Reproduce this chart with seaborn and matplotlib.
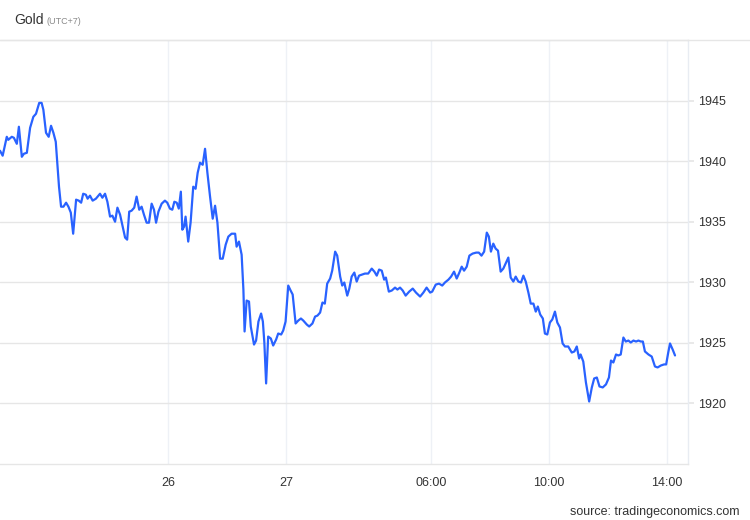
import numpy as np
import pandas as pd
import seaborn as sns
import matplotlib.pyplot as plt

# hours from the left edge of the chart, price in USD
hours = [
    0.00, 0.09, 0.23, 0.28, 0.40, 0.47, 0.57, 0.64, 0.74, 0.81, 0.91, 1.02, 1.13, 1.22, 1.33, 1.41,
    1.47, 1.56, 1.65, 1.73, 1.81, 1.89, 1.94, 2.00, 2.07, 2.15, 2.24, 2.32, 2.40, 2.48, 2.58, 2.67,
    2.75, 2.82, 2.91, 2.97, 3.05, 3.14, 3.25, 3.39, 3.47, 3.56, 3.64, 3.73, 3.81, 3.90, 3.98, 4.07,
    4.18, 4.24, 4.31, 4.38, 4.46, 4.55, 4.63, 4.72, 4.80, 4.88, 4.97, 5.05, 5.14, 5.22, 5.29, 5.37,
    5.48, 5.59, 5.67, 5.76, 5.84, 5.91, 5.99, 6.06, 6.13, 6.18, 6.24, 6.29, 6.38, 6.46, 6.55, 6.63,
    6.70, 6.78, 6.87, 6.95, 7.03, 7.12, 7.21, 7.29, 7.37, 7.46, 7.55, 7.65, 7.74, 7.85, 7.97, 8.02,
    8.10, 8.19, 8.25, 8.29, 8.36, 8.44, 8.50, 8.61, 8.68, 8.76, 8.85, 8.91, 8.96, 9.02, 9.09, 9.18,
    9.26, 9.36, 9.43, 9.53, 9.60, 9.68, 9.77, 9.85, 9.92, 10.02, 10.11, 10.20, 10.28, 10.40, 10.48,
    10.59, 10.68, 10.76, 10.85, 10.93, 11.01, 11.09, 11.19, 11.26, 11.36, 11.43, 11.53, 11.60, 11.67,
    11.77, 11.84, 11.92, 12.01, 12.09, 12.17, 12.26, 12.37, 12.48, 12.60, 12.69, 12.77, 12.85, 12.94,
    13.02, 13.08, 13.18, 13.28, 13.39, 13.47, 13.56, 13.65, 13.75, 13.87, 13.99, 14.10, 14.24, 14.35,
    14.46, 14.58, 14.65, 14.77, 14.88, 14.99, 15.08, 15.20, 15.29, 15.39, 15.48, 15.57, 15.65, 15.73,
    15.82, 15.91, 16.02, 16.14, 16.23, 16.32, 16.41, 16.50, 16.57, 16.64, 16.72, 16.80, 16.88, 16.97,
    17.06, 17.15, 17.23, 17.31, 17.40, 17.48, 17.57, 17.66, 17.74, 17.82, 17.91, 17.99, 18.08, 18.16,
    18.23, 18.31, 18.40, 18.47, 18.55, 18.64, 18.72, 18.81, 18.89, 18.98, 19.07, 19.15, 19.26, 19.38,
    19.47, 19.55, 19.63, 19.68, 19.77, 19.86, 19.97, 20.06, 20.14, 20.23, 20.32, 20.43, 20.54, 20.64,
    20.71, 20.79, 20.88, 20.96, 21.04, 21.13, 21.21, 21.30, 21.38, 21.47, 21.56, 21.64, 21.72, 21.79,
    21.86, 21.98, 22.09, 22.20, 22.29, 22.40, 22.51, 22.58, 22.65, 22.71, 22.80, 22.88,
]
price = [
    1940.86, 1940.45, 1942.01, 1941.76, 1942.01, 1941.93, 1941.43, 1942.84, 1940.36, 1940.61, 1940.69,
    1942.75, 1943.66, 1943.91, 1944.81, 1944.81, 1944.24, 1942.34, 1942.01, 1942.92, 1942.34, 1941.60,
    1939.87, 1937.89, 1936.24, 1936.24, 1936.57, 1936.24, 1935.75, 1934.01, 1936.82, 1936.74, 1936.57,
    1937.31, 1937.23, 1936.90, 1937.15, 1936.74, 1936.90, 1937.31, 1936.98, 1937.31, 1936.65, 1935.42,
    1935.50, 1935.00, 1936.16, 1935.58, 1934.34, 1933.69, 1933.52, 1935.83, 1935.91, 1936.16, 1937.07,
    1935.99, 1936.24, 1935.58, 1934.92, 1934.92, 1936.49, 1935.99, 1934.92, 1935.83, 1936.49, 1936.74,
    1936.57, 1936.08, 1935.99, 1936.65, 1936.57, 1936.08, 1937.48, 1934.34, 1934.59, 1935.42, 1933.36,
    1934.92, 1937.89, 1937.72, 1939.04, 1939.87, 1939.70, 1941.02, 1939.04, 1937.07, 1935.25, 1936.32,
    1934.92, 1931.95, 1931.95, 1933.11, 1933.77, 1934.01, 1934.01, 1932.94, 1933.36, 1932.28, 1929.40,
    1925.94, 1928.49, 1928.41, 1926.35, 1924.86, 1925.19, 1926.76, 1927.42, 1926.76, 1925.03, 1921.65,
    1925.52, 1925.36, 1924.78, 1925.28, 1925.77, 1925.69, 1926.02, 1926.76, 1929.73, 1929.32, 1928.99,
    1926.60, 1926.84, 1927.01, 1926.84, 1926.51, 1926.35, 1926.60, 1927.17, 1927.25, 1927.50, 1928.33,
    1928.24, 1929.89, 1930.31, 1930.96, 1932.53, 1932.20, 1930.47, 1929.73, 1929.98, 1928.90, 1929.48,
    1930.47, 1930.80, 1930.06, 1930.55, 1930.63, 1930.72, 1930.72, 1931.13, 1930.88, 1930.55, 1931.05,
    1930.96, 1930.22, 1930.39, 1929.23, 1929.32, 1929.56, 1929.40, 1929.56, 1929.32, 1928.90, 1929.23,
    1929.48, 1929.15, 1928.82, 1929.15, 1929.56, 1929.15, 1929.23, 1929.81, 1929.89, 1929.73, 1929.98,
    1930.22, 1930.47, 1930.88, 1930.31, 1930.80, 1931.29, 1930.96, 1931.29, 1932.20, 1932.37, 1932.45,
    1932.45, 1932.20, 1932.53, 1934.10, 1933.77, 1932.53, 1933.19, 1932.78, 1932.61, 1930.88, 1931.13,
    1931.62, 1932.04, 1930.39, 1930.06, 1930.47, 1930.06, 1929.98, 1930.55, 1930.06, 1929.15, 1928.24,
    1928.24, 1927.58, 1928.00, 1927.34, 1927.01, 1925.77, 1925.69, 1926.68, 1926.93, 1927.58, 1926.68,
    1926.27, 1924.95, 1924.70, 1924.70, 1924.20, 1924.29, 1924.70, 1923.71, 1924.04, 1923.46, 1921.73,
    1920.16, 1921.32, 1922.06, 1922.14, 1921.40, 1921.32, 1921.57, 1922.14, 1923.54, 1923.38, 1924.04,
    1923.96, 1924.04, 1925.44, 1925.11, 1925.19, 1925.03, 1925.19, 1925.11, 1925.19, 1925.11, 1925.11,
    1924.29, 1924.04, 1923.87, 1923.05, 1922.97, 1923.13, 1923.22, 1923.22, 1924.20, 1924.95, 1924.45,
    1923.96,
]

x_tick_pos = [5.69, 9.69, 14.61, 18.61, 22.61]
x_tick_labels = ["26", "27", "06:00", "10:00", "14:00"]
y_ticks = [1920, 1925, 1930, 1935, 1940, 1945]

df = pd.DataFrame({"hours": hours, "price": price})

sns.set_theme(style="white")
plt.rcParams["font.family"] = ["Liberation Sans", "DejaVu Sans"]

fig = plt.figure(figsize=(7.5, 5.2), dpi=100)
ax = fig.add_axes([0.0, 1 - 464 / 520, 688 / 750, (464 - 40) / 520])

sns.lineplot(data=df, x="hours", y="price", ax=ax, color="#2962ff", linewidth=1.6)

ax.set_xlim(0, 23.32)
ax.set_ylim(1915, 1950)
ax.set_xticks(x_tick_pos)
ax.set_xticklabels(x_tick_labels)
ax.set_yticks(y_ticks)
ax.set_xlabel("")
ax.set_ylabel("")

ax.yaxis.tick_right()
ax.grid(axis="y", color="#e6e6e6", linewidth=1)
ax.grid(axis="x", color="#eef1f6", linewidth=1)
ax.tick_params(axis="y", length=4, color="#e6e6e6", pad=3, labelsize=9, labelcolor="#333333", right=True)
ax.tick_params(axis="x", length=0, pad=9, labelsize=9, labelcolor="#333333")

ax.spines["left"].set_visible(False)
ax.spines["top"].set_color("#e6e6e6")
ax.spines["bottom"].set_color("#e6e6e6")
ax.spines["right"].set_color("#e8ecf2")
for s in ax.spines.values():
    s.set_linewidth(1)

# full-width rule under the title
fig.add_artist(plt.Line2D([0, 1], [1 - 39.5 / 520, 1 - 39.5 / 520], color="#e6e6e6", linewidth=1))

fig.text(14 / 750, 1 - 20 / 520, "Gold", fontsize=10, color="#333333", va="center")
fig.text(46.5 / 750, 1 - 21 / 520, "(UTC+7)", fontsize=6.5, color="#8a8a8a", va="center")
fig.text(740 / 750, 1 - 512 / 520, "source: tradingeconomics.com", fontsize=9, color="#333333",
         ha="right", va="center")

fig.savefig("out.png", dpi=100)
